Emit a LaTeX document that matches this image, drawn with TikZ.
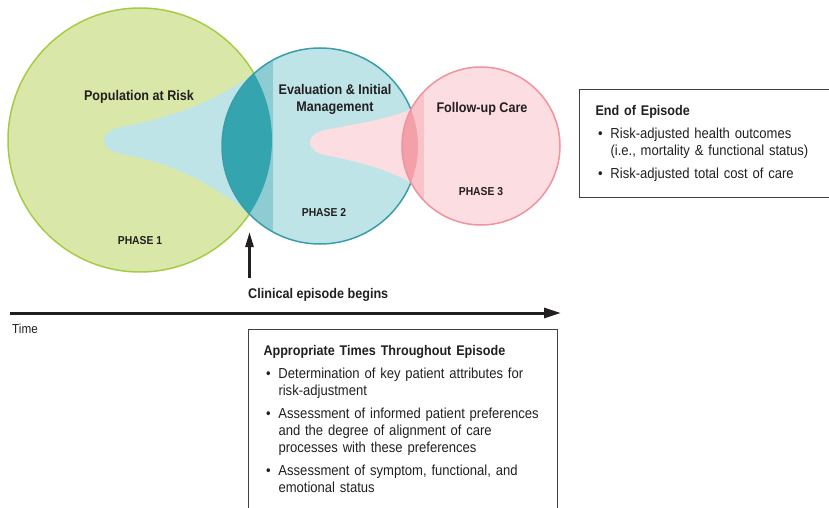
\documentclass[tikz,border=0pt]{standalone}
\usepackage{fontspec}
\setmainfont{Liberation Sans}[FakeStretch=0.9]
\usetikzlibrary{arrows.meta}

\definecolor{inkdark}{HTML}{231F20}
\definecolor{riskfill}{HTML}{D9E8A8}
\definecolor{riskline}{HTML}{A6CB45}
\definecolor{evalfill}{HTML}{BEE4E8}
\definecolor{evalmid}{HTML}{8DCCD3}
\definecolor{evaldark}{HTML}{34A5AF}
\definecolor{evalline}{HTML}{3A9EA8}
\definecolor{carefill}{HTML}{FCDDE1}
\definecolor{caremid}{HTML}{F8C3C9}
\definecolor{caredark}{HTML}{F4A0A8}
\definecolor{careline}{HTML}{F0939C}

\newcommand{\pointitem}[1]{\par\vspace{6pt}\noindent\hyphenpenalty=10000\hangindent=15pt\hangafter=1%
  \makebox[15pt][l]{\hspace{2.5pt}\textbullet}#1\par}

\begin{document}
\begin{tikzpicture}[x=1pt, y=-1pt,
    phasetitle/.style={font=\fontsize{14}{17.5}\selectfont\bfseries, text=inkdark, align=center, inner sep=0pt},
    phaselabel/.style={font=\fontsize{11.5}{14}\selectfont\bfseries, text=inkdark, inner sep=0pt},
    infobox/.style={draw=black!75, line width=1pt, anchor=north west, align=left, text=inkdark,
        font=\fontsize{14.5}{17}\selectfont, inner ysep=16pt},
    timeline/.style={line width=3pt, draw=inkdark, -{Triangle[length=17pt,width=10pt]}},
    onsetline/.style={line width=2.5pt, draw=inkdark, -{Triangle[length=15pt,width=8pt]}}]
    % Canvas
    \useasboundingbox (0,0) rectangle (829,508);
    \clip (0,0) rectangle (829,508);
    \coordinate (risk) at (140,140);
    \coordinate (eval) at (320,146);
    \coordinate (care) at (481,146);

    % Phase 1 and the spread of phase 2 into it
    \filldraw [fill=riskfill, draw=riskline, line width=1.5pt] (risk) circle [radius=132pt];
    \fill [evalfill] (eval) circle [radius=98pt];
    \fill [evalfill] (254,73.5) .. controls (205,108) and (165,118) .. (122,127)
        .. controls (98,130) and (98,151) .. (122,154)
        .. controls (165,162) and (205,178) .. (249.4,213.9) -- cycle;
    \begin{scope}
        \clip (eval) circle [radius=98pt];
        \fill [evalmid] (200,0) rectangle (273,300);
        \clip (risk) circle [radius=132pt];
        \fill [evaldark] (200,0) rectangle (300,300);
    \end{scope}
    \draw [evalline, line width=1.5pt] (eval) circle [radius=98pt];

    % Phase 3 and its spread into phase 2
    \fill [carefill] (411,109.4) .. controls (385,120) and (355,124) .. (325,130)
        .. controls (305,134) and (305,151) .. (325,155)
        .. controls (355,161) and (385,168) .. (411,182.6) -- cycle;
    \fill [carefill] (care) circle [radius=79pt];
    \begin{scope}
        \clip (care) circle [radius=79pt];
        \fill [caremid] (390,0) rectangle (424,300);
        \clip (eval) circle [radius=98pt];
        \fill [caredark] (390,0) rectangle (430,300);
    \end{scope}
    \draw [careline, line width=1.5pt] (care) circle [radius=79pt];

    % Labels
    \node [phasetitle, anchor=base] (risktitle) at (139,100.5) {Population at Risk};
    \node [phaselabel, anchor=base] (phaseone) at (140,244) {PHASE 1};
    \node [phasetitle, anchor=base] (evaltitle) at (335,112) {Evaluation \& Initial\\Management};
    \node [phaselabel, anchor=base] (phasetwo) at (324,216) {PHASE 2};
    \node [phasetitle, anchor=base] (caretitle) at (482,113) {Follow-up Care};
    \node [phaselabel, anchor=base] (phasethree) at (481,195) {PHASE 3};

    % Time axis
    \node [phasetitle, anchor=base west] (onset) at (248,298) {Clinical episode begins};
    \coordinate (onsettip) at (249.5,232);
    \draw [onsetline, shorten <=9.5pt] (onset.north west -| onsettip) -- (onsettip);
    \coordinate (timestart) at (10,313);
    \coordinate (timeend) at (561,313);
    \draw [timeline] (timestart) -- (timeend);
    \node [font=\fontsize{13}{15}\selectfont, text=inkdark, anchor=base west, inner sep=0pt] (timelabel) at (12,333) {Time};

    % Measures
    \node [infobox, text width=250pt, inner xsep=16pt] (episodeend) at (579,89) {\noindent{\fontsize{14}{17}\selectfont\bfseries End of Episode}
        \pointitem{Risk-adjusted health outcomes\newline (i.e., mortality \& functional status)}
        \pointitem{Risk-adjusted total cost of care}};
    \node [infobox, text width=279pt, inner xsep=15pt] (throughout) at (248,329) {\noindent{\fontsize{14}{17}\selectfont\bfseries Appropriate Times Throughout Episode}
        \pointitem{Determination of key patient attributes for\newline risk-adjustment}
        \pointitem{Assessment of informed patient preferences\newline and the degree of alignment of care\newline processes with these preferences}
        \pointitem{Assessment of symptom, functional, and\newline emotional status}};
\end{tikzpicture}
\end{document}
